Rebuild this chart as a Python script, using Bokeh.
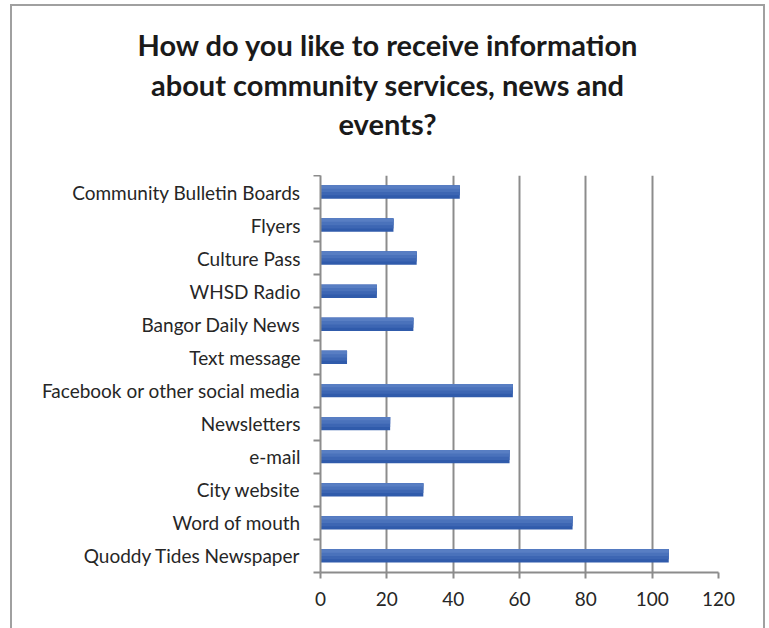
from bokeh.plotting import figure
from bokeh.models import Range1d, LinearAxis, FixedTicker, ColumnDataSource, Div
from bokeh.layouts import column
from bokeh.embed import file_html
from bokeh.resources import INLINE

# ---- data (top to bottom as shown) ----
categories = ["Community Bulletin Boards", "Flyers", "Culture Pass", "WHSD Radio",
              "Bangor Daily News", "Text message", "Facebook or other social media",
              "Newsletters", "e-mail", "City website", "Word of mouth",
              "Quoddy Tides Newspaper"]
counts = [42, 22, 29, 17, 28, 8, 58, 21, 57, 31, 76, 105]
x_ticks = [0, 20, 40, 60, 80, 100, 120]
title_lines = ["How do you like to receive information",
               "about community services, news and",
               "events?"]

n = len(categories)
pos = [n - i - 0.5 for i in range(n)]          # band centres, first category at top

FONT = "Lato"
GRAY = "#8c8c8c"
W = 751
TH = 169

# ---- title panel ----
inner = ('<div style="box-sizing:border-box;width:%dpx;height:%dpx;padding-top:19px;'
         'margin:0;text-align:center;font-family:%s;font-weight:bold;font-size:29px;'
         'line-height:39.5px;color:#1a1a1a;overflow:hidden">%s</div>'
         % (W, TH, FONT, "<br>".join(title_lines)))
t = Div(text=inner, width=W, height=TH, margin=0, styles={"margin": "0", "padding": "0"})

# ---- chart ----
p = figure(width=W, height=453, output_backend="svg", toolbar_location=None,
           y_range=Range1d(0, n), x_range=Range1d(0, 120),
           x_axis_location=None, y_axis_location=None,
           min_border_left=308, min_border_right=45, min_border_top=0,
           min_border_bottom=56,
           frame_width=398, frame_height=397)
p.outline_line_color = None
p.background_fill_color = "white"

# bars with a light-to-dark vertical shading (stacked strips, same data)
shades = [(0.0, 0.40, "#305bab"), (0.05, 0.30, "#3d66b3"),
          (0.10, 0.20, "#4a72bb"), (0.15, 0.10, "#587ec3")]
for off, h, col in shades:
    p.hbar(y="y", right="val", left=0, height=h,
           source=ColumnDataSource(dict(y=[v + off for v in pos], val=counts)),
           fill_color=col, line_color=None)

# x axis
xa = LinearAxis(ticker=FixedTicker(ticks=x_ticks))
xa.axis_line_color = GRAY
xa.axis_line_width = 2
xa.major_tick_line_color = GRAY
xa.major_tick_line_width = 2
xa.major_tick_out = 6
xa.major_tick_in = 0
xa.minor_tick_line_color = None
xa.major_label_text_font = FONT
xa.major_label_text_font_size = "19px"
xa.major_label_text_color = "#262626"
xa.major_label_standoff = 13
p.add_layout(xa, "below")

# vertical gridlines
p.xgrid.ticker = FixedTicker(ticks=x_ticks)
p.xgrid.grid_line_color = GRAY
p.xgrid.grid_line_width = 2
p.ygrid.grid_line_color = None

# left axis line with ticks at category boundaries
ta = LinearAxis(ticker=FixedTicker(ticks=list(range(n + 1))))
ta.axis_line_color = GRAY
ta.axis_line_width = 2
ta.major_tick_line_color = GRAY
ta.major_tick_line_width = 2
ta.major_tick_out = 7
ta.major_tick_in = 0
ta.minor_tick_line_color = None
ta.major_label_text_font_size = "1px"
ta.major_label_text_alpha = 0
ta.major_label_standoff = 0
p.add_layout(ta, "left")

# category labels at band centres
ca = LinearAxis(ticker=FixedTicker(ticks=pos),
                major_label_overrides={v: c for v, c in zip(pos, categories)})
ca.axis_line_color = None
ca.major_tick_line_color = None
ca.minor_tick_line_color = None
ca.major_label_text_font = FONT
ca.major_label_text_font_size = "19px"
ca.major_label_text_color = "#262626"
ca.major_label_standoff = 7
p.add_layout(ca, "left")

layout = column(t, p, spacing=0,
                styles={"margin-left": "10px", "margin-top": "4px",
                        "border-left": "2px solid #a0a0a0", "border-top": "2px solid #a0a0a0",
                        "border-right": "2px solid #a0a0a0"})

open("out.html", "w").write(file_html(layout, INLINE))
